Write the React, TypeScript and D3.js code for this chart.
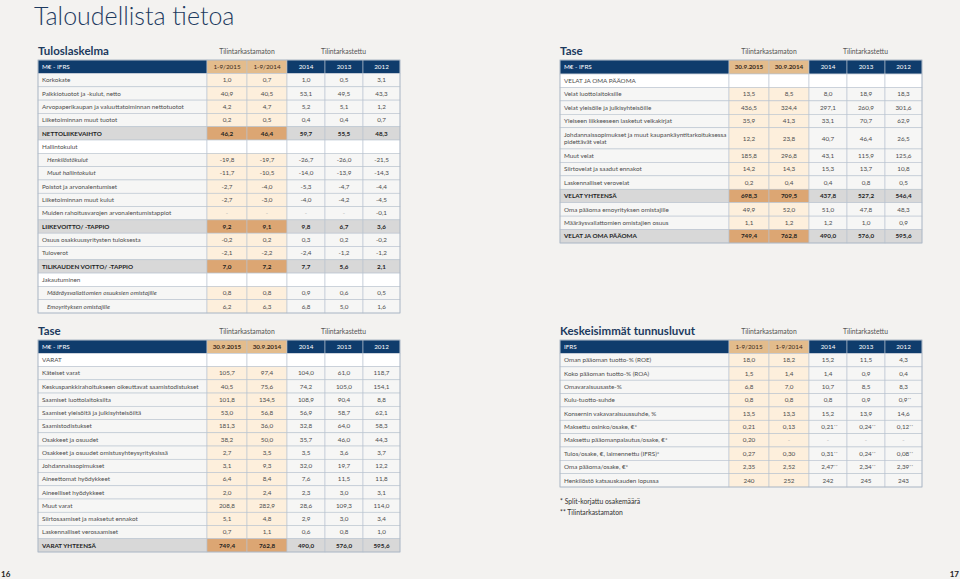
import React, { useRef, useEffect } from 'react';
import * as d3 from 'd3';

const W = 960;
const H = 579;

// column headers
const interimCols = ['1-9/2015', '1-9/2014'];
const balanceCols = ['30.9.2015', '30.9.2014'];
const yearCols = ['2014', '2013', '2012'];

// Tuloslaskelma
const incomeLabels = [
  'Korkokate',
  'Palkkiotuotot ja -kulut, netto',
  'Arvopaperikaupan ja valuuttatoiminnan nettotuotot',
  'Liiketoiminnan muut tuotot',
  'NETTOLIIKEVAIHTO',
  'Hallintokulut',
  'Henkilöstökulut',
  'Muut hallintokulut',
  'Poistot ja arvonalentumiset',
  'Liiketoiminnan muut kulut',
  'Muiden rahoitusvarojen arvonalentumistappiot',
  'LIIKEVOITTO/ -TAPPIO',
  'Osuus osakkuusyritysten tuloksesta',
  'Tuloverot',
  'TILIKAUDEN VOITTO/ -TAPPIO',
  'Jakautuminen',
  'Määräysvallattomien osuuksien omistajille',
  'Emoyrityksen omistajille',
];
const incomeValues = [
  ['1,0', '0,7', '1,0', '0,5', '3,1'],
  ['40,9', '40,5', '53,1', '49,5', '43,3'],
  ['4,2', '4,7', '5,2', '5,1', '1,2'],
  ['0,2', '0,5', '0,4', '0,4', '0,7'],
  ['46,2', '46,4', '59,7', '55,5', '48,3'],
  [],
  ['-19,8', '-19,7', '-26,7', '-26,0', '-21,5'],
  ['-11,7', '-10,5', '-14,0', '-13,9', '-14,3'],
  ['-2,7', '-4,0', '-5,3', '-4,7', '-4,4'],
  ['-2,7', '-3,0', '-4,0', '-4,2', '-4,5'],
  ['-', '-', '-', '-', '-0,1'],
  ['9,2', '9,1', '9,8', '6,7', '3,6'],
  ['-0,2', '0,2', '0,3', '0,2', '-0,2'],
  ['-2,1', '-2,2', '-2,4', '-1,2', '-1,2'],
  ['7,0', '7,2', '7,7', '5,6', '2,1'],
  [],
  ['0,8', '0,8', '0,9', '0,6', '0,5'],
  ['6,2', '6,3', '6,8', '5,0', '1,6'],
];
const incomeTotals = [4, 11, 14];
const incomeSections = [5, 15];
const incomeIndented = [6, 7, 16, 17];

// Tase, varat
const assetLabels = [
  'VARAT',
  'Käteiset varat',
  'Keskuspankkirahoitukseen oikeuttavat saamistodistukset',
  'Saamiset luottolaitoksilta',
  'Saamiset yleisöltä ja julkisyhteisöiltä',
  'Saamistodistukset',
  'Osakkeet ja osuudet',
  'Osakkeet ja osuudet omistusyhteysyrityksissä',
  'Johdannaissopimukset',
  'Aineettomat hyödykkeet',
  'Aineelliset hyödykkeet',
  'Muut varat',
  'Siirtosaamiset ja maksetut ennakot',
  'Laskennalliset verosaamiset',
  'VARAT YHTEENSÄ',
];
const assetValues = [
  [],
  ['105,7', '97,4', '104,0', '61,0', '118,7'],
  ['40,5', '75,6', '74,2', '105,0', '154,1'],
  ['101,8', '134,5', '108,9', '90,4', '8,8'],
  ['53,0', '56,8', '56,9', '58,7', '62,1'],
  ['181,3', '36,0', '32,8', '64,0', '58,3'],
  ['38,2', '50,0', '35,7', '46,0', '44,3'],
  ['2,7', '3,5', '3,5', '3,6', '3,7'],
  ['3,1', '9,3', '32,0', '19,7', '12,2'],
  ['6,4', '8,4', '7,6', '11,5', '11,8'],
  ['2,0', '2,4', '2,3', '3,0', '3,1'],
  ['208,8', '282,9', '28,6', '109,3', '114,0'],
  ['5,1', '4,8', '2,9', '3,0', '3,4'],
  ['0,7', '1,1', '0,6', '0,8', '1,0'],
  ['749,4', '762,8', '490,0', '576,0', '595,6'],
];
const assetTotals = [14];
const assetSections = [0];

// Tase, velat ja oma pääoma
const liabilityLabels = [
  'VELAT JA OMA PÄÄOMA',
  'Velat luottolaitoksille',
  'Velat yleisölle ja julkisyhteisöille',
  'Yleiseen liikkeeseen lasketut velkakirjat',
  'Johdannaissopimukset ja muut kaupankäyntitarkoituksessa\npidettävät velat',
  'Muut velat',
  'Siirtovelat ja saadut ennakot',
  'Laskennalliset verovelat',
  'VELAT YHTEENSÄ',
  'Oma pääoma emoyrityksen omistajille',
  'Määräysvallattomien omistajien osuus',
  'VELAT JA OMA PÄÄOMA',
];
const liabilityValues = [
  [],
  ['13,5', '8,5', '8,0', '18,9', '18,3'],
  ['436,5', '324,4', '297,1', '260,9', '301,6'],
  ['35,9', '41,3', '33,1', '70,7', '62,9'],
  ['12,2', '23,8', '40,7', '46,4', '26,5'],
  ['185,8', '296,8', '43,1', '115,9', '125,6'],
  ['14,2', '14,3', '15,3', '13,7', '10,8'],
  ['0,2', '0,4', '0,4', '0,8', '0,5'],
  ['698,3', '709,5', '437,8', '527,2', '546,4'],
  ['49,9', '52,0', '51,0', '47,8', '48,3'],
  ['1,1', '1,2', '1,2', '1,0', '0,9'],
  ['749,4', '762,8', '490,0', '576,0', '595,6'],
];
const liabilityTotals = [8, 11];
const liabilitySections = [0];

// Keskeisimmät tunnusluvut
const keyLabels = [
  'Oman pääoman tuotto-% (ROE)',
  'Koko pääoman tuotto-% (ROA)',
  'Omavaraisuusaste-%',
  'Kulu-tuotto-suhde',
  'Konsernin vakavaraisuussuhde, %',
  'Maksettu osinko/osake, €*',
  'Maksettu pääomanpalautus/osake, €*',
  'Tulos/osake, €, laimennettu (IFRS)*',
  'Oma pääoma/osake, €*',
  'Henkilöstö katsauskauden lopussa',
];
const keyValues = [
  ['18,0', '18,2', '15,2', '11,5', '4,3'],
  ['1,5', '1,4', '1,4', '0,9', '0,4'],
  ['6,8', '7,0', '10,7', '8,5', '8,3'],
  ['0,8', '0,8', '0,8', '0,9', '0,9**'],
  ['13,5', '13,3', '15,2', '13,9', '14,6'],
  ['0,21', '0,13', '0,21**', '0,24**', '0,12**'],
  ['0,20', '-', '-', '-', '-'],
  ['0,27', '0,30', '0,31**', '0,24**', '0,08**'],
  ['2,35', '2,52', '2,47**', '2,34**', '2,39**'],
  ['240', '252', '242', '245', '243'],
];

const footnotes = ['* Split-korjattu osakemäärä', '** Tilintarkastamaton'];

const FONT = 'Lato, "Open Sans", sans-serif';
const NAVY = '#0f3c6c';
const TAN_HEAD = '#e3bc8c';
const TAN_TOTAL = '#dca673';
const PEACH = '#fdefdc';
const ROW = '#f6f6f5';
const TOTAL = '#d8d8d8';
const GRID = '#b9c4d0';

const colWidths = [169, 40, 40, 38, 38, 37];

function drawTable(g, t) {
  const edges = [0, ...d3.cumsum(colWidths)];
  const xs = d3.scaleLinear().domain([0, d3.sum(colWidths)]).range([t.x, t.x + 362]);
  const weights = t.labels.map(l => (l.includes('\n') ? 1.58 : 1));
  const yEdges = [0, ...d3.cumsum(weights)];
  const ys = d3.scaleLinear().domain([0, d3.sum(weights)]).range([t.top + t.headerH, t.bottom]);

  // section title and audit labels
  g.append('text')
    .attr('x', t.x).attr('y', t.top - 5.5)
    .attr('font-size', 11.5).attr('font-weight', 700).attr('fill', '#1c3a5e')
    .text(t.title);
  g.append('text')
    .attr('x', xs(edges[2])).attr('y', t.top - 6)
    .attr('text-anchor', 'middle').attr('font-size', 6.8).attr('fill', '#555')
    .text('Tilintarkastamaton');
  g.append('text')
    .attr('x', (xs(edges[3]) + xs(edges[6])) / 2).attr('y', t.top - 6)
    .attr('text-anchor', 'middle').attr('font-size', 6.8).attr('fill', '#555')
    .text('Tilintarkastettu');

  // header row
  const headers = [t.corner, ...t.cols];
  headers.forEach((h, i) => {
    const x0 = xs(edges[i]);
    const x1 = xs(edges[i + 1]);
    const tan = i === 1 || i === 2;
    g.append('rect')
      .attr('x', x0).attr('y', t.top).attr('width', x1 - x0).attr('height', t.headerH)
      .attr('fill', tan ? TAN_HEAD : NAVY)
      .attr('stroke', GRID).attr('stroke-width', 0.6);
    g.append('text')
      .attr('x', i === 0 ? x0 + 4 : (x0 + x1) / 2)
      .attr('y', t.top + t.headerH / 2)
      .attr('dy', '0.35em')
      .attr('text-anchor', i === 0 ? 'start' : 'middle')
      .attr('font-size', 6.3)
      .attr('font-weight', tan && t.boldDates ? 700 : 400)
      .attr('fill', tan ? '#3a2a1a' : '#fff')
      .text(h);
  });

  // body rows
  t.labels.forEach((label, r) => {
    const y0 = ys(yEdges[r]);
    const y1 = ys(yEdges[r + 1]);
    const isTotal = (t.totals || []).includes(r);
    const isSection = (t.sections || []).includes(r);
    const isIndent = (t.indented || []).includes(r);
    const vals = t.values[r];

    for (let c = 0; c < 6; c++) {
      const x0 = xs(edges[c]);
      const x1 = xs(edges[c + 1]);
      const tan = c === 1 || c === 2;
      let fill = ROW;
      if (isSection) fill = '#fff';
      else if (isTotal) fill = tan ? TAN_TOTAL : TOTAL;
      else if (tan) fill = PEACH;
      g.append('rect')
        .attr('x', x0).attr('y', y0).attr('width', x1 - x0).attr('height', y1 - y0)
        .attr('fill', fill).attr('stroke', GRID).attr('stroke-width', 0.6);

      if (c === 0) {
        const lines = label.split('\n');
        const txt = g.append('text')
          .attr('x', x0 + (isIndent ? 9 : 4))
          .attr('y', (y0 + y1) / 2 - (lines.length - 1) * 3.6)
          .attr('font-size', 6.3)
          .attr('font-weight', isTotal ? 700 : 400)
          .attr('font-style', isIndent ? 'italic' : 'normal')
          .attr('fill', isTotal ? '#1e1e1e' : '#4d4d4d');
        lines.forEach((ln, k) => {
          txt.append('tspan').attr('x', x0 + (isIndent ? 9 : 4)).attr('dy', k === 0 ? '0.35em' : 7.2).text(ln);
        });
      } else if (vals.length) {
        const v = vals[c - 1];
        const star = v.endsWith('**');
        const base = star ? v.slice(0, -2) : v;
        const txt = g.append('text')
          .attr('x', (x0 + x1) / 2 + (star ? 1.5 : 0))
          .attr('y', (y0 + y1) / 2)
          .attr('dy', '0.35em')
          .attr('text-anchor', 'middle')
          .attr('font-size', 6.3)
          .attr('font-weight', isTotal ? 700 : 400)
          .attr('fill', v === '-' ? '#b0b0b0' : isTotal ? '#1e1e1e' : '#4d4d4d');
        txt.append('tspan').text(base);
        if (star) txt.append('tspan').attr('font-size', 4.6).attr('dy', -1.2).text('**');
      }
    }
  });

  // outer border
  g.append('rect')
    .attr('x', t.x).attr('y', t.top).attr('width', 362).attr('height', t.bottom - t.top)
    .attr('fill', 'none').attr('stroke', '#a9b5c2').attr('stroke-width', 0.7);
}

const App = () => {
  const svgRef = useRef(null);

  useEffect(() => {
    const svg = d3.select(svgRef.current);
    svg.selectAll('*').remove();

    svg.append('rect').attr('width', W).attr('height', H).attr('fill', '#f3f2f0');

    const g = svg.append('g').attr('font-family', FONT);

    g.append('text')
      .attr('x', 34).attr('y', 25)
      .attr('font-size', 25).attr('font-weight', 300).attr('fill', '#1d3a5f')
      .text('Taloudellista tietoa');

    drawTable(g, {
      title: 'Tuloslaskelma', x: 38, top: 60, headerH: 13.5, bottom: 313,
      corner: 'M€ - IFRS', cols: [...interimCols, ...yearCols],
      labels: incomeLabels, values: incomeValues,
      totals: incomeTotals, sections: incomeSections, indented: incomeIndented,
    });

    drawTable(g, {
      title: 'Tase', x: 38, top: 340, headerH: 13.3, bottom: 552,
      corner: 'M€ - IFRS', cols: [...balanceCols, ...yearCols], boldDates: true,
      labels: assetLabels, values: assetValues,
      totals: assetTotals, sections: assetSections,
    });

    drawTable(g, {
      title: 'Tase', x: 560, top: 60, headerH: 14, bottom: 243,
      corner: 'M€ - IFRS', cols: [...balanceCols, ...yearCols], boldDates: true,
      labels: liabilityLabels, values: liabilityValues,
      totals: liabilityTotals, sections: liabilitySections,
    });

    drawTable(g, {
      title: 'Keskeisimmät tunnusluvut', x: 560, top: 340, headerH: 13.5, bottom: 487,
      corner: 'IFRS', cols: [...interimCols, ...yearCols],
      labels: keyLabels, values: keyValues,
    });

    footnotes.forEach((f, i) => {
      g.append('text')
        .attr('x', 560).attr('y', 502 + i * 11).attr('dy', '0.35em')
        .attr('font-size', 6.8).attr('fill', '#333')
        .text(f);
    });

    g.append('text')
      .attr('x', 1).attr('y', 577)
      .attr('font-size', 8).attr('font-weight', 700).attr('fill', '#222')
      .text('16');
    g.append('text')
      .attr('x', 959).attr('y', 577).attr('text-anchor', 'end')
      .attr('font-size', 8).attr('font-weight', 700).attr('fill', '#222')
      .text('17');
  }, []);

  return (
    <svg ref={svgRef} width={W} height={H} style={{ position: 'absolute', left: 0, top: 0 }} />
  );
};

export default App;
